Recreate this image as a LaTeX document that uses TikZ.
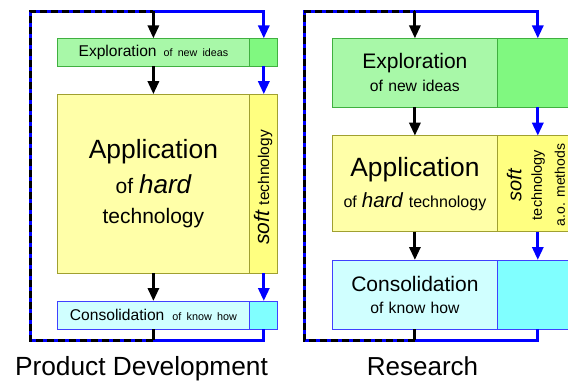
\documentclass[tikz,border=0pt]{standalone}
\usepackage{fontspec}
\setmainfont{Liberation Sans}
\usetikzlibrary{matrix, positioning, arrows.meta}
\definecolor{explore}{RGB}{168,248,168}
\definecolor{exploreS}{RGB}{128,248,128}
\definecolor{exploreline}{RGB}{64,176,64}
\definecolor{apply}{RGB}{255,255,168}
\definecolor{applyS}{RGB}{255,255,128}
\definecolor{applyline}{RGB}{160,160,48}
\definecolor{consol}{RGB}{208,255,255}
\definecolor{consolS}{RGB}{128,255,255}
\definecolor{consolline}{RGB}{64,64,255}
\newcommand{\fs}[2]{\fontsize{#1}{#2}\selectfont}
\tikzset{
table/.style={
  matrix of nodes,
  inner sep=0pt, outer sep=0pt,
  column sep=-\pgflinewidth,
  nodes={draw, rectangle, line width=0.8pt, inner sep=0pt, outer sep=0pt, align=center, anchor=center},
  nodes in empty cells
},
expl/.style={fill=explore, draw=exploreline},
explS/.style={fill=exploreS, draw=exploreline},
app/.style={fill=apply, draw=applyline},
appS/.style={fill=applyS, draw=applyline},
cons/.style={fill=consol, draw=consolline},
consS/.style={fill=consolS, draw=consolline},
flow/.style={line width=3pt, -{Triangle[length=13pt,width=11pt]}},
back/.style={line width=3pt, blue},
backdash/.style={line width=3pt, black, dash pattern=on 7pt off 4pt},
}

\begin{document}
\begin{tikzpicture}[x=1pt, y=-1pt]
    \useasboundingbox (0,0) rectangle (568,381);
    \clip (0,0) rectangle (568,381);
    % product development
    \matrix (pd) [table, matrix anchor=north west, row sep=27pt,
        column 1/.style={nodes={text width=192pt}},
        column 2/.style={nodes={text width=28pt}},
        row 1/.style={nodes={minimum height=28pt}},
        row 2/.style={nodes={minimum height=179pt}},
        row 3/.style={nodes={minimum height=28pt}}] at (57,38) {
        |[expl, font=\fs{15.6}{19}]| {Exploration\hspace{7pt}{\fs{10.7}{13}of new ideas}} & |[explS]| \\
        |[app, font=\fs{21}{30}]| {{\fs{26.4}{30}Application}\\[5pt]of\hspace{6pt}{\fs{26}{30}\itshape hard}\\technology} & |[appS]| \\
        |[cons, font=\fs{15.6}{19}]| {Consolidation\hspace{8pt}{\fs{10.8}{13}of know how}} & |[consS]| \\
    };
    \node (pd-soft) [rotate=90] at (263,187.5) {\fs{21}{25}\itshape soft\hspace{6pt}\upshape\fs{15.5}{19}technology};
    % research
    \matrix (rs) [table, matrix anchor=north west, row sep=27.5pt,
        column 1/.style={nodes={text width=165pt}},
        column 2/.style={nodes={text width=80pt}},
        row 1/.style={nodes={minimum height=69pt}},
        row 2/.style={nodes={minimum height=96pt}},
        row 3/.style={nodes={minimum height=69pt}}] at (332,38) {
        |[expl, font=\fs{15.7}{23}]| {{\fs{21}{23}Exploration}\\of new ideas} & |[explS]| \\
        |[app, font=\fs{16}{31}]| {{\fs{26.4}{31}Application}\\of\hspace{5pt}{\fs{20.5}{31}\itshape hard}\hspace{6pt}technology} & |[appS]| \\
        |[cons, font=\fs{15.7}{22}]| {{\fs{21}{22}Consolidation}\\of know how} & |[consS]| \\
    };
    \node (rs-soft) [rotate=90, align=center, font={\fs{14.5}{20.5}}] at (536,185) {{\fs{20}{20.5}\itshape soft}\\technology\\[2.5pt]{\fs{14}{20.5}a.o. methods}};
    \node (pd-label) [anchor=base] at (141.5,375.3) {\fs{26.3}{30}Product Development};
    \node (rs-label) [anchor=base] at (422.5,375.3) {\fs{26}{30}Research};
    % feedback loops
    \coordinate (pd-top) at (30,11);
    \coordinate (pd-bot) at (30,340);
    \coordinate (rs-top) at (304,11);
    \coordinate (rs-bot) at (304,340);
    \foreach \p in {pd, rs} {
        \draw[back, -{Triangle[length=13pt,width=11pt]}] (\p-3-2.south) |- (\p-bot) |- (\p-1-2.north |- \p-top) -- (\p-1-2.north);
        \draw[backdash] (\p-3-1.south |- \p-bot) -| (\p-top) -- (\p-1-1.north |- \p-top);
        \draw[line width=3pt] (\p-3-1) -- (\p-3-1.south |- \p-bot);
        \draw[flow] (\p-1-1.north |- \p-top) -- (\p-1-1);
        \draw[flow] (\p-1-1) -- (\p-2-1);
        \draw[flow] (\p-2-1) -- (\p-3-1);
        \draw[flow, blue] (\p-1-2) -- (\p-2-2);
        \draw[flow, blue] (\p-2-2) -- (\p-3-2);
    }
\end{tikzpicture}
\end{document}
